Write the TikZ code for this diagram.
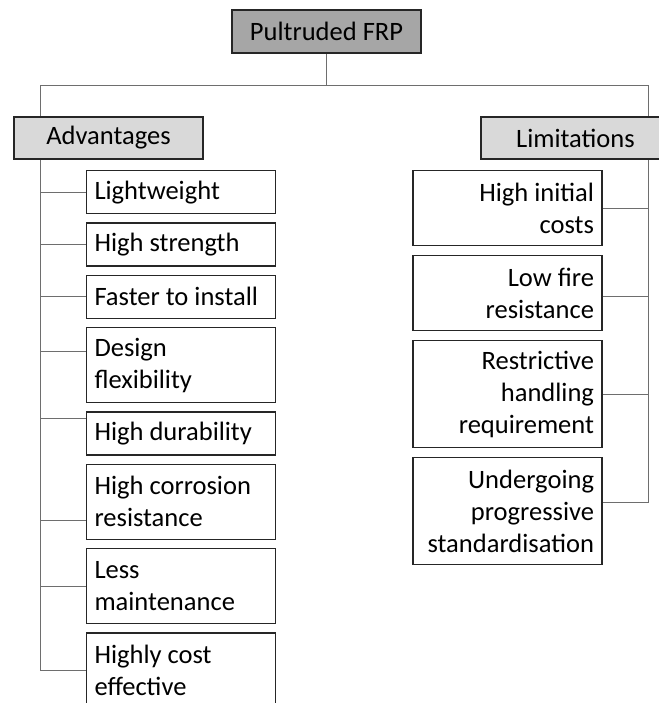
\documentclass[tikz,border=0pt]{standalone}
\usepackage{fontspec}
\setmainfont{Carlito}
\usepackage{tikz}
\usetikzlibrary{positioning, backgrounds}
\definecolor{topgray}{HTML}{A6A6A6}
\definecolor{midgray}{HTML}{D9D9D9}
\definecolor{linegray}{HTML}{6E6E6E}
\tikzstyle{rootbox} = [draw=black!85, fill=topgray, line width=1pt, rectangle, minimum width=141.75pt, minimum height=32.25pt, inner sep=0pt]
\tikzstyle{groupbox} = [draw=black!85, fill=midgray, line width=1pt, rectangle, minimum width=141.75pt, minimum height=31.5pt, inner sep=0pt]
\tikzstyle{itembox} = [draw=black!85, fill=white, line width=1pt, rectangle, inner xsep=6pt, inner ysep=0pt, text width=129.75pt]
\tikzstyle{leftitem} = [itembox, align=flush left]
\tikzstyle{rightitem} = [itembox, align=flush right]
\tikzstyle{oneline} = [minimum height=32.25pt]
\tikzstyle{twoline} = [minimum height=56.25pt]
\tikzstyle{threeline} = [minimum height=80.25pt]
\tikzstyle{conector} = [draw=linegray, line width=0.75pt]

\begin{document}
\begin{tikzpicture}[x=0.75pt, y=-0.75pt, font=\fontsize{19.9}{24}\selectfont]
	\useasboundingbox (0,0) rectangle (659,703);
	\clip (0,0) rectangle (659,703);
	\node [rootbox] (frp) at (326.5,31.5) {Pultruded FRP};
	\node [groupbox] (adv) at (108.5,138) {Advantages};
	\node [groupbox] (lim) at (575.5,138) {Limitations};
	
	\node [leftitem, oneline, anchor=north] (a1) at (181,170) {Lightweight};
	\node [leftitem, oneline, below=6pt of a1] (a2) {High strength};
	\node [leftitem, oneline, below=6pt of a2] (a3) {Faster to install};
	\node [leftitem, twoline, below=6pt of a3] (a4) {Design\\flexibility};
	\node [leftitem, oneline, below=6pt of a4] (a5) {High durability};
	\node [leftitem, twoline, below=6pt of a5] (a6) {High corrosion\\resistance};
	\node [leftitem, twoline, below=6pt of a6] (a7) {Less\\maintenance};
	\node [leftitem, twoline, below=6pt of a7] (a8) {Highly cost\\effective};
	
	\node [rightitem, twoline, anchor=north] (r1) at (507.5,170) {High initial\\costs};
	\node [rightitem, twoline, below=6.5pt of r1] (r2) {Low fire\\resistance};
	\node [rightitem, threeline, below=6.5pt of r2] (r3) {Restrictive\\handling\\requirement};
	\node [rightitem, threeline, below=6.5pt of r3] (r4) {Undergoing\\progressive\\standardisation};
	
	\begin{scope}[on background layer]
		\coordinate (busL) at (40,85);
		\coordinate (busR) at (648,85);
		\draw [conector] (frp.south) -- (frp.south |- busL);
		\draw [conector] (busL) -- (busR);
		\draw [conector] (busL) |- (a8.west);
		\draw [conector] (busR) |- ([yshift=6.75pt]r4.east);
		\foreach \n/\s in {a1/0pt, a2/0pt, a3/0pt, a4/10.5pt, a5/11.6pt, a6/-13.9pt, a7/0pt}
			\draw [conector] ([yshift=\s]\n.west) -- ([yshift=\s]\n.west -| busL);
		\foreach \n/\s in {r1/0pt, r2/-2.6pt, r3/0pt}
			\draw [conector] ([yshift=\s]\n.east) -- ([yshift=\s]\n.east -| busR);
	\end{scope}
\end{tikzpicture}
\end{document}
